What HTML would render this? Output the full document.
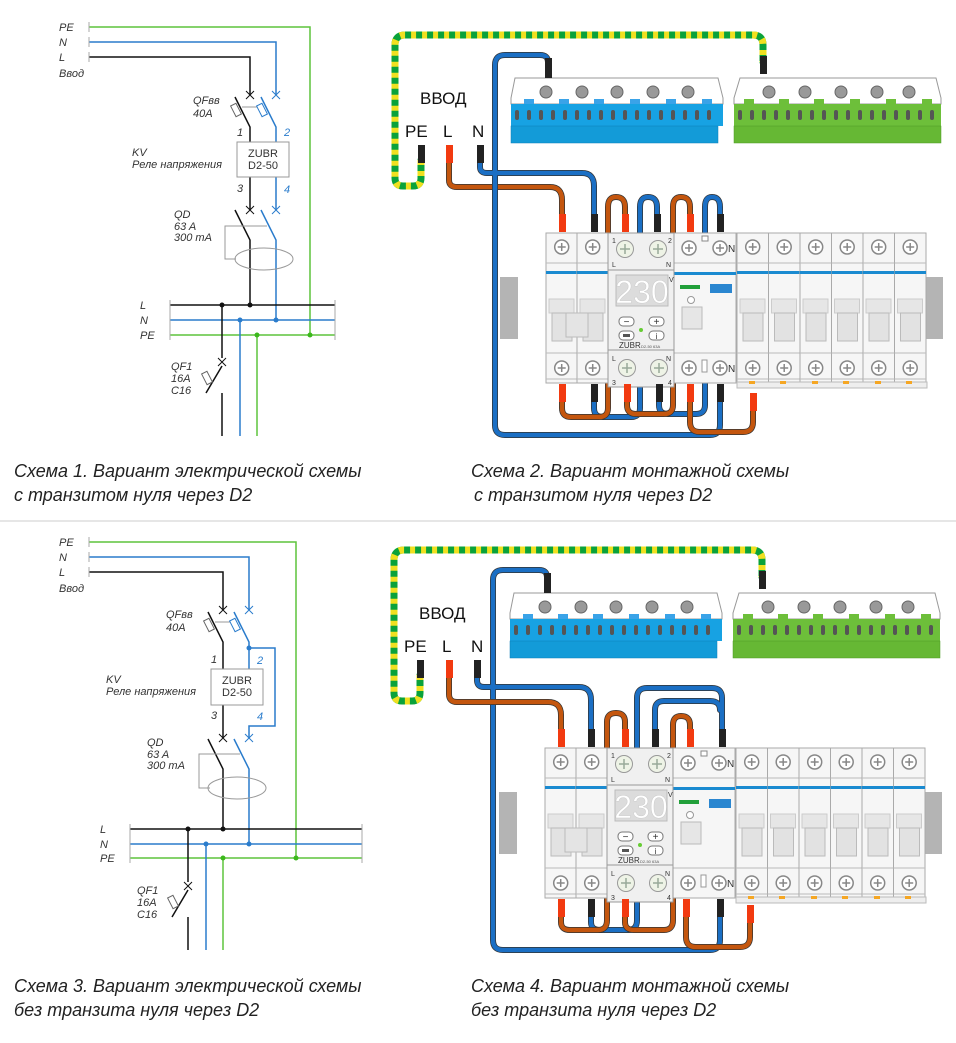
<!DOCTYPE html>
<html><head><meta charset="utf-8"><style>
body{margin:0;background:#fff;}
svg{display:block;font-family:"Liberation Sans",sans-serif;}
.it{font-style:italic;font-size:11px;fill:#333;}
.cap{font-style:italic;font-size:18px;fill:#222;}
</style></head><body>
<svg width="956" height="1043" viewBox="0 0 956 1043" xmlns="http://www.w3.org/2000/svg">
<defs>
<g id="scr"><circle r="7" fill="#fff" stroke="#888" stroke-width="1.5"/><path d="M-4 0H4M0 -4V4" stroke="#888" stroke-width="1.5"/></g>
<g id="gscr"><circle r="8.5" fill="#eef3e6" stroke="#999" stroke-width="1"/><path d="M-5 0H5M0 -5V5" stroke="#9a9" stroke-width="1.5"/></g>
<g id="mod">
<rect x="0" y="0" width="31.5" height="150" fill="#f6f6f6" stroke="#aaa"/>
<line x1="0" y1="30" x2="31.5" y2="30" stroke="#bbb"/>
<line x1="0" y1="120" x2="31.5" y2="120" stroke="#bbb"/>
<rect x="0" y="38" width="31.5" height="3" fill="#1a8ad0"/>
<use href="#scr" x="15.7" y="14"/><use href="#scr" x="15.7" y="135"/>
<rect x="3" y="66" width="25" height="14" fill="#e6e6e6" stroke="#ccc"/>
<rect x="6" y="80" width="20" height="28" fill="#e2e2e2" stroke="#bbb"/>
<line x1="0" y1="146" x2="31.5" y2="146" stroke="#bbb"/>
</g>
<g id="panel">
<polygon points="515,78 718,78 723,98 723,104 511,104 511,98" fill="#fff" stroke="#999"/>
<rect x="511" y="104" width="212" height="22" fill="#17a2e3"/>
<rect x="511" y="126" width="207" height="17" fill="#139bd8" stroke="#0c7fb8" stroke-width="0.5"/>
<g fill="#3aa3e8"><rect x="524" y="99" width="10" height="5"/><rect x="559" y="99" width="10" height="5"/><rect x="594" y="99" width="10" height="5"/><rect x="630" y="99" width="10" height="5"/><rect x="666" y="99" width="10" height="5"/><rect x="702" y="99" width="10" height="5"/></g>
<g fill="#999" stroke="#666"><circle cx="546" cy="92" r="6"/><circle cx="582" cy="92" r="6"/><circle cx="617" cy="92" r="6"/><circle cx="653" cy="92" r="6"/><circle cx="688" cy="92" r="6"/></g>
<g fill="#555"><rect x="515" y="110" width="4" height="10" rx="2"/><rect x="527" y="110" width="4" height="10" rx="2"/><rect x="539" y="110" width="4" height="10" rx="2"/><rect x="551" y="110" width="4" height="10" rx="2"/><rect x="563" y="110" width="4" height="10" rx="2"/><rect x="575" y="110" width="4" height="10" rx="2"/><rect x="587" y="110" width="4" height="10" rx="2"/><rect x="599" y="110" width="4" height="10" rx="2"/><rect x="611" y="110" width="4" height="10" rx="2"/><rect x="623" y="110" width="4" height="10" rx="2"/><rect x="635" y="110" width="4" height="10" rx="2"/><rect x="647" y="110" width="4" height="10" rx="2"/><rect x="659" y="110" width="4" height="10" rx="2"/><rect x="671" y="110" width="4" height="10" rx="2"/><rect x="683" y="110" width="4" height="10" rx="2"/><rect x="695" y="110" width="4" height="10" rx="2"/><rect x="707" y="110" width="4" height="10" rx="2"/></g>
<polygon points="740,78 936,78 941,98 941,104 734,104 734,98" fill="#fff" stroke="#999"/>
<rect x="734" y="104" width="207" height="22" fill="#6dbf3a"/>
<rect x="734" y="126" width="207" height="17" fill="#66b834" stroke="#4e9a26" stroke-width="0.5"/>
<g fill="#6dbf3a"><rect x="744" y="99" width="10" height="5"/><rect x="779" y="99" width="10" height="5"/><rect x="814" y="99" width="10" height="5"/><rect x="850" y="99" width="10" height="5"/><rect x="886" y="99" width="10" height="5"/><rect x="922" y="99" width="10" height="5"/></g>
<g fill="#999" stroke="#666"><circle cx="769" cy="92" r="6"/><circle cx="805" cy="92" r="6"/><circle cx="841" cy="92" r="6"/><circle cx="877" cy="92" r="6"/><circle cx="909" cy="92" r="6"/></g>
<g fill="#555"><rect x="738" y="110" width="4" height="10" rx="2"/><rect x="750" y="110" width="4" height="10" rx="2"/><rect x="762" y="110" width="4" height="10" rx="2"/><rect x="774" y="110" width="4" height="10" rx="2"/><rect x="786" y="110" width="4" height="10" rx="2"/><rect x="798" y="110" width="4" height="10" rx="2"/><rect x="810" y="110" width="4" height="10" rx="2"/><rect x="822" y="110" width="4" height="10" rx="2"/><rect x="834" y="110" width="4" height="10" rx="2"/><rect x="846" y="110" width="4" height="10" rx="2"/><rect x="858" y="110" width="4" height="10" rx="2"/><rect x="870" y="110" width="4" height="10" rx="2"/><rect x="882" y="110" width="4" height="10" rx="2"/><rect x="894" y="110" width="4" height="10" rx="2"/><rect x="906" y="110" width="4" height="10" rx="2"/><rect x="918" y="110" width="4" height="10" rx="2"/><rect x="930" y="110" width="4" height="10" rx="2"/></g>
<text x="420" y="104" font-size="17" fill="#111">ВВОД</text>
<text x="405" y="137" font-size="17" fill="#111">PE</text>
<text x="443" y="137" font-size="17" fill="#111">L</text>
<text x="472" y="137" font-size="17" fill="#111">N</text>
<rect x="500" y="277" width="18" height="62" fill="#b4b4b4"/>
<rect x="925" y="277" width="18" height="62" fill="#b4b4b4"/>
<use href="#mod" x="546" y="233"/><use href="#mod" x="577" y="233"/>
<rect x="566" y="313" width="22" height="24" fill="#e4e4e4" stroke="#bbb"/>
<rect x="674" y="233" width="62" height="150" fill="#f6f6f6" stroke="#aaa"/>
<line x1="674" y1="263" x2="736" y2="263" stroke="#bbb"/>
<line x1="674" y1="353" x2="736" y2="353" stroke="#bbb"/>
<rect x="674" y="272" width="62" height="3" fill="#1a8ad0"/>
<use href="#scr" x="689" y="248"/><use href="#scr" x="720" y="248"/>
<use href="#scr" x="689" y="368"/><use href="#scr" x="720" y="368"/>
<text x="728" y="252" font-size="10" fill="#333">N</text><text x="728" y="372" font-size="10" fill="#333">N</text>
<rect x="702" y="236" width="6" height="5" fill="#fff" stroke="#888"/>
<rect x="680" y="285" width="20" height="4" fill="#22a03a"/>
<rect x="710" y="284" width="22" height="9" fill="#2a86d0"/>
<circle cx="691" cy="300" r="3.5" fill="#fff" stroke="#999"/>
<rect x="682" y="307" width="20" height="22" fill="#e6e6e6" stroke="#bbb"/>
<rect x="702" y="360" width="5" height="12" fill="#fff" stroke="#999"/>
<use href="#mod" x="737" y="233"/><use href="#mod" x="768.5" y="233"/><use href="#mod" x="800" y="233"/><use href="#mod" x="831.5" y="233"/><use href="#mod" x="863" y="233"/><use href="#mod" x="894.5" y="233"/>
<rect x="737" y="382" width="190" height="6" fill="#eee" stroke="#bbb"/>
<g fill="#f5a623"><rect x="749" y="381" width="6" height="3"/><rect x="780" y="381" width="6" height="3"/><rect x="812" y="381" width="6" height="3"/><rect x="843" y="381" width="6" height="3"/><rect x="875" y="381" width="6" height="3"/><rect x="906" y="381" width="6" height="3"/></g>
<rect x="608" y="233" width="66" height="154" fill="#f0f0f0" stroke="#999"/>
<line x1="608" y1="270" x2="674" y2="270" stroke="#999"/>
<line x1="608" y1="350" x2="674" y2="350" stroke="#999"/>
<use href="#gscr" x="625" y="249"/><use href="#gscr" x="658" y="249"/>
<use href="#gscr" x="627" y="368"/><use href="#gscr" x="659" y="368"/>
<g font-size="7" fill="#333"><text x="612" y="243">1</text><text x="668" y="243">2</text><text x="612" y="267">L</text><text x="666" y="267">N</text><text x="612" y="361">L</text><text x="666" y="361">N</text><text x="612" y="385">3</text><text x="668" y="385">4</text><text x="669" y="282">V</text></g>
<rect x="616" y="275" width="52" height="31" fill="#dcdcdc" stroke="#bbb"/>
<text x="642" y="303" font-size="32" fill="#fff" stroke="#ccc" stroke-width="0.5" text-anchor="middle">230</text>
<rect x="619" y="317" width="15" height="9" rx="4" fill="#fff" stroke="#777"/><rect x="649" y="317" width="15" height="9" rx="4" fill="#fff" stroke="#777"/>
<rect x="619" y="331" width="15" height="9" rx="4" fill="#fff" stroke="#777"/><rect x="649" y="331" width="15" height="9" rx="4" fill="#fff" stroke="#777"/>
<text x="626.5" y="325" font-size="10" text-anchor="middle" fill="#333">−</text><text x="656.5" y="325" font-size="10" text-anchor="middle" fill="#333">+</text>
<rect x="623" y="334" width="7" height="3" fill="#555"/><text x="656.5" y="339" font-size="8" text-anchor="middle" fill="#333">i</text>
<circle cx="641" cy="330" r="2" fill="#6c3"/>
<text x="619" y="348" font-size="8" fill="#333">ZUBR</text><text x="641" y="348" font-size="4" fill="#555">D2-50 63A</text>
</g>
</defs>

<!-- ================= SCHEME 1 ================= -->
<g class="it">
<text x="59" y="31">PE</text><text x="59" y="46">N</text><text x="59" y="61">L</text><text x="59" y="77">Ввод</text>
</g>
<g fill="none" stroke-width="1.5">
<path d="M89 27H310V335" stroke="#5dc43c"/>
<path d="M89 42H276V95" stroke="#2a7ccc"/>
<path d="M89 57H250V95" stroke="#111"/>
<path d="M89 22V32M89 37V47M89 52V62" stroke="#aaa" stroke-width="1"/>
<path d="M235 97L250 127V142M250 177V210" stroke="#111"/>
<path d="M261 97L276 127V142M276 177V210" stroke="#2a7ccc"/>
<path d="M246 91L254 99M254 91L246 99" stroke="#111" stroke-width="1"/>
<path d="M272 91L280 99M280 91L272 99" stroke="#2a7ccc" stroke-width="1"/>
<path d="M242 107H262" stroke="#999" stroke-width="1"/>
<rect x="233" y="104" width="6" height="12" transform="rotate(-27 236 110)" stroke="#666" stroke-width="1" fill="#fff"/>
<rect x="259" y="104" width="6" height="12" transform="rotate(-27 262 110)" stroke="#2a7ccc" stroke-width="1" fill="#fff"/>
<rect x="237" y="142" width="52" height="35" stroke="#999" stroke-width="1" fill="#fff"/>
<path d="M246 206L254 214M254 206L246 214" stroke="#111" stroke-width="1"/>
<path d="M272 206L280 214M280 206L272 214" stroke="#2a7ccc" stroke-width="1"/>
<path d="M235 210L250 240V305" stroke="#111"/>
<path d="M261 210L276 240V320" stroke="#2a7ccc"/>
<path d="M267 226H225V259H236" stroke="#999" stroke-width="1"/>
<ellipse cx="264" cy="259" rx="29" ry="11" stroke="#999" stroke-width="1"/>
<path d="M170 305H335" stroke="#111"/><path d="M170 320H335" stroke="#2a7ccc"/><path d="M170 335H335" stroke="#5dc43c"/>
<path d="M170 300V340M335 300V340" stroke="#aaa" stroke-width="1"/>
<path d="M222 305V358M222 366L206 393M222 393V436" stroke="#111"/>
<path d="M218 358L226 366M226 358L218 366" stroke="#111" stroke-width="1"/>
<rect x="204" y="372" width="6" height="12" transform="rotate(-27 207 378)" stroke="#666" stroke-width="1" fill="#fff"/>
<path d="M240 320V436" stroke="#2a7ccc"/><path d="M257 335V436" stroke="#5dc43c"/>
</g>
<g fill="#111"><circle cx="222" cy="305" r="2.5"/><circle cx="250" cy="305" r="2.5"/></g>
<g fill="#2a7ccc"><circle cx="240" cy="320" r="2.5"/><circle cx="276" cy="320" r="2.5"/></g>
<g fill="#3cb81c"><circle cx="257" cy="335" r="2.5"/><circle cx="310" cy="335" r="2.5"/></g>
<g class="it">
<text x="193" y="104">QFвв</text><text x="193" y="117">40A</text>
<text x="237" y="136">1</text><text x="284" y="136" fill="#2a7ccc">2</text>
<text x="237" y="192">3</text><text x="284" y="193" fill="#2a7ccc">4</text>
<text x="132" y="156">KV</text><text x="132" y="168">Реле напряжения</text>
<text x="174" y="218">QD</text><text x="174" y="230">63 A</text><text x="174" y="241">300 mA</text>
<text x="140" y="309">L</text><text x="140" y="324">N</text><text x="140" y="339">PE</text>
<text x="171" y="370">QF1</text><text x="171" y="382">16A</text><text x="171" y="394">C16</text>
</g>
<text x="263" y="157" font-size="11" fill="#333" text-anchor="middle">ZUBR</text>
<text x="263" y="169" font-size="11" fill="#333" text-anchor="middle">D2-50</text>

<!-- ================= SCHEME 3 ================= -->
<g class="it">
<text x="59" y="546">PE</text><text x="59" y="561">N</text><text x="59" y="576">L</text><text x="59" y="592">Ввод</text>
</g>
<g fill="none" stroke-width="1.5">
<path d="M89 542H296V858" stroke="#5dc43c"/>
<path d="M89 557H249V610" stroke="#2a7ccc"/>
<path d="M89 572H223V610" stroke="#111"/>
<path d="M89 537V547M89 552V562M89 567V577" stroke="#aaa" stroke-width="1"/>
<path d="M208 612L223 642V669M223 705V738" stroke="#111"/>
<path d="M234 612L249 642V669M249 648H275V726H249V738" stroke="#2a7ccc"/>
<path d="M219 606L227 614M227 606L219 614" stroke="#111" stroke-width="1"/>
<path d="M245 606L253 614M253 606L245 614" stroke="#2a7ccc" stroke-width="1"/>
<path d="M215 622H235" stroke="#999" stroke-width="1"/>
<rect x="206" y="619" width="6" height="12" transform="rotate(-27 209 625)" stroke="#666" stroke-width="1" fill="#fff"/>
<rect x="232" y="619" width="6" height="12" transform="rotate(-27 235 625)" stroke="#2a7ccc" stroke-width="1" fill="#fff"/>
<rect x="211" y="669" width="52" height="36" stroke="#999" stroke-width="1" fill="#fff"/>
<path d="M219 734L227 742M227 734L219 742" stroke="#111" stroke-width="1"/>
<path d="M245 734L253 742M253 734L245 742" stroke="#2a7ccc" stroke-width="1"/>
<path d="M208 739L223 769V829" stroke="#111"/>
<path d="M234 739L249 769V844" stroke="#2a7ccc"/>
<path d="M240 754H199V788H210" stroke="#999" stroke-width="1"/>
<ellipse cx="237" cy="788" rx="29" ry="11" stroke="#999" stroke-width="1"/>
<path d="M130 829H362" stroke="#111"/><path d="M130 844H362" stroke="#2a7ccc"/><path d="M130 858H362" stroke="#5dc43c"/>
<path d="M130 824V863M362 824V863" stroke="#aaa" stroke-width="1"/>
<path d="M188 829V882M188 890L172 917M188 917V950" stroke="#111"/>
<path d="M184 882L192 890M192 882L184 890" stroke="#111" stroke-width="1"/>
<rect x="170" y="896" width="6" height="12" transform="rotate(-27 173 902)" stroke="#666" stroke-width="1" fill="#fff"/>
<path d="M206 844V950" stroke="#2a7ccc"/><path d="M223 858V950" stroke="#5dc43c"/>
</g>
<g fill="#111"><circle cx="188" cy="829" r="2.5"/><circle cx="223" cy="829" r="2.5"/></g>
<g fill="#2a7ccc"><circle cx="206" cy="844" r="2.5"/><circle cx="249" cy="844" r="2.5"/><circle cx="249" cy="648" r="2.5"/></g>
<g fill="#3cb81c"><circle cx="223" cy="858" r="2.5"/><circle cx="296" cy="858" r="2.5"/></g>
<g class="it">
<text x="166" y="618">QFвв</text><text x="166" y="631">40A</text>
<text x="211" y="663">1</text><text x="257" y="664" fill="#2a7ccc">2</text>
<text x="211" y="719">3</text><text x="257" y="720" fill="#2a7ccc">4</text>
<text x="106" y="683">KV</text><text x="106" y="695">Реле напряжения</text>
<text x="147" y="746">QD</text><text x="147" y="758">63 A</text><text x="147" y="769">300 mA</text>
<text x="100" y="833">L</text><text x="100" y="848">N</text><text x="100" y="862">PE</text>
<text x="137" y="894">QF1</text><text x="137" y="906">16A</text><text x="137" y="918">C16</text>
</g>
<text x="237" y="684" font-size="11" fill="#333" text-anchor="middle">ZUBR</text>
<text x="237" y="696" font-size="11" fill="#333" text-anchor="middle">D2-50</text>

<line x1="0" y1="521" x2="956" y2="521" stroke="#ccc"/>

<!-- ================= SCHEME 2 ================= -->
<g fill="none" stroke-linecap="round" stroke-linejoin="round">
<path d="M421 160V178Q421 186 413 186H403Q395 186 395 178V45Q395 35 405 35H753Q763 35 763 45V62" stroke="#0aa23a" stroke-width="7"/>
<path d="M421 160V178Q421 186 413 186H403Q395 186 395 178V45Q395 35 405 35H753Q763 35 763 45V62" stroke="#f0e020" stroke-width="7" stroke-dasharray="5 6" stroke-linecap="butt"/>
<path d="M449 160V180Q449 187 457 187H550Q562 187 562 200V220" stroke="#333" stroke-width="6"/>
<path d="M449 160V180Q449 187 457 187H550Q562 187 562 200V220" stroke="#c4560e" stroke-width="4.5"/>
<g stroke-width="6" stroke="#333">
<path d="M480 160V167Q480 173 487 173H582Q594 173 594 186V220"/>
<path d="M720 395V425Q720 435 710 435H505Q495 435 495 425V65Q495 55 505 55H540Q548 55 548 62"/>
<path d="M594 395V408Q594 417 603 417H631Q640 417 640 408V207Q640 197 648 197Q657 197 657 207V220"/>
<path d="M659 395V405Q659 414 668 414H696Q705 414 705 405V207Q705 197 712 197Q720 197 720 207V220"/>
</g>
<g stroke-width="4.5" stroke="#1b6fc4">
<path d="M480 160V167Q480 173 487 173H582Q594 173 594 186V220"/>
<path d="M720 395V425Q720 435 710 435H505Q495 435 495 425V65Q495 55 505 55H540Q548 55 548 62"/>
<path d="M594 395V408Q594 417 603 417H631Q640 417 640 408V207Q640 197 648 197Q657 197 657 207V220"/>
<path d="M659 395V405Q659 414 668 414H696Q705 414 705 405V207Q705 197 712 197Q720 197 720 207V220"/>
</g>
<g stroke-width="6" stroke="#333">
<path d="M562 395V408Q562 417 571 417H599Q608 417 608 408V207Q608 197 616 197Q625 197 625 207V220"/>
<path d="M627 395V405Q627 414 636 414H664Q673 414 673 405V207Q673 197 681 197Q690 197 690 207V220"/>
<path d="M690 395V422Q690 432 700 432H743Q753 432 753 422V400"/>
</g>
<g stroke-width="4.5" stroke="#c4560e">
<path d="M562 395V408Q562 417 571 417H599Q608 417 608 408V207Q608 197 616 197Q625 197 625 207V220"/>
<path d="M627 395V405Q627 414 636 414H664Q673 414 673 405V207Q673 197 681 197Q690 197 690 207V220"/>
<path d="M690 395V422Q690 432 700 432H743Q753 432 753 422V400"/>
</g>
</g>
<use href="#panel"/>
<g fill="#222"><rect x="418" y="145" width="7" height="18"/><rect x="477" y="145" width="7" height="18"/><rect x="545" y="58" width="7" height="20"/><rect x="760" y="56" width="7" height="18"/>
<rect x="591" y="214" width="7" height="18"/><rect x="654" y="214" width="7" height="18"/><rect x="717" y="214" width="7" height="18"/>
<rect x="591" y="384" width="7" height="18"/><rect x="656" y="384" width="7" height="18"/><rect x="717" y="384" width="7" height="18"/></g>
<g fill="#f23a10"><rect x="446" y="145" width="7" height="18"/>
<rect x="559" y="214" width="7" height="18"/><rect x="622" y="214" width="7" height="18"/><rect x="687" y="214" width="7" height="18"/>
<rect x="559" y="384" width="7" height="18"/><rect x="624" y="384" width="7" height="18"/><rect x="687" y="384" width="7" height="18"/><rect x="750" y="393" width="7" height="18"/></g>

<!-- ================= SCHEME 4 ================= -->
<g fill="none" stroke-linecap="round" stroke-linejoin="round">
<path d="M420 675V693Q420 701 412 701H402Q394 701 394 693V560Q394 550 404 550H752Q762 550 762 560V577" stroke="#0aa23a" stroke-width="7"/>
<path d="M420 675V693Q420 701 412 701H402Q394 701 394 693V560Q394 550 404 550H752Q762 550 762 560V577" stroke="#f0e020" stroke-width="7" stroke-dasharray="5 6" stroke-linecap="butt"/>
<g stroke-width="6" stroke="#333">
<path d="M477 675V680Q477 687 484 687H579Q591 687 591 700V735"/>
<path d="M720 910V940Q720 950 710 950H503Q493 950 493 940V580Q493 570 503 570H539Q547 570 547 577"/>
<path d="M591 910V922Q591 930 600 930H628Q637 930 637 920V698Q637 688 647 688H712Q722 688 722 698V735"/>
<path d="M655 735V710Q655 701 664 701H710Q720 701 720 710"/>
</g>
<g stroke-width="4.5" stroke="#1b6fc4">
<path d="M477 675V680Q477 687 484 687H579Q591 687 591 700V735"/>
<path d="M720 910V940Q720 950 710 950H503Q493 950 493 940V580Q493 570 503 570H539Q547 570 547 577"/>
<path d="M591 910V922Q591 930 600 930H628Q637 930 637 920V698Q637 688 647 688H712Q722 688 722 698V735"/>
<path d="M655 735V710Q655 701 664 701H710Q720 701 720 710"/>
</g>
<g stroke-width="6" stroke="#333">
<path d="M449 675V694Q449 702 457 702H548Q561 702 561 715V735"/>
<path d="M561 910V922Q561 930 570 930H598Q607 930 607 920V722Q607 713 616 713Q625 713 625 722V735"/>
<path d="M625 910V922Q625 930 634 930H664Q673 930 673 920V725Q673 716 681 716Q690 716 690 725V735"/>
<path d="M686 910V937Q686 947 696 947H740Q750 947 750 937V915"/>
</g>
<g stroke-width="4.5" stroke="#c4560e">
<path d="M449 675V694Q449 702 457 702H548Q561 702 561 715V735"/>
<path d="M561 910V922Q561 930 570 930H598Q607 930 607 920V722Q607 713 616 713Q625 713 625 722V735"/>
<path d="M625 910V922Q625 930 634 930H664Q673 930 673 920V725Q673 716 681 716Q690 716 690 725V735"/>
<path d="M686 910V937Q686 947 696 947H740Q750 947 750 937V915"/>
</g>
</g>
<use href="#panel" transform="translate(-1,515)"/>
<g fill="#222"><rect x="417" y="660" width="7" height="18"/><rect x="474" y="660" width="7" height="18"/><rect x="544" y="573" width="7" height="20"/><rect x="759" y="571" width="7" height="18"/>
<rect x="588" y="729" width="7" height="18"/><rect x="652" y="729" width="7" height="18"/><rect x="719" y="729" width="7" height="18"/>
<rect x="588" y="899" width="7" height="18"/><rect x="717" y="899" width="7" height="18"/></g>
<g fill="#f23a10"><rect x="446" y="660" width="7" height="18"/>
<rect x="558" y="729" width="7" height="18"/><rect x="622" y="729" width="7" height="18"/><rect x="687" y="729" width="7" height="18"/>
<rect x="558" y="899" width="7" height="18"/><rect x="622" y="899" width="7" height="18"/><rect x="683" y="899" width="7" height="18"/><rect x="747" y="905" width="7" height="18"/></g>

<text class="cap" x="14" y="477">Схема 1. Вариант электрической схемы</text>
<text class="cap" x="14" y="501">с транзитом нуля через D2</text>
<text class="cap" x="471" y="477">Схема 2.  Вариант монтажной схемы</text>
<text class="cap" x="474" y="501">с транзитом нуля через D2</text>
<text class="cap" x="14" y="992">Схема 3. Вариант электрической схемы</text>
<text class="cap" x="14" y="1016">без транзита нуля через D2</text>
<text class="cap" x="471" y="992">Схема 4. Вариант монтажной схемы</text>
<text class="cap" x="471" y="1016">без транзита нуля через D2</text>
</svg>
</body></html>
